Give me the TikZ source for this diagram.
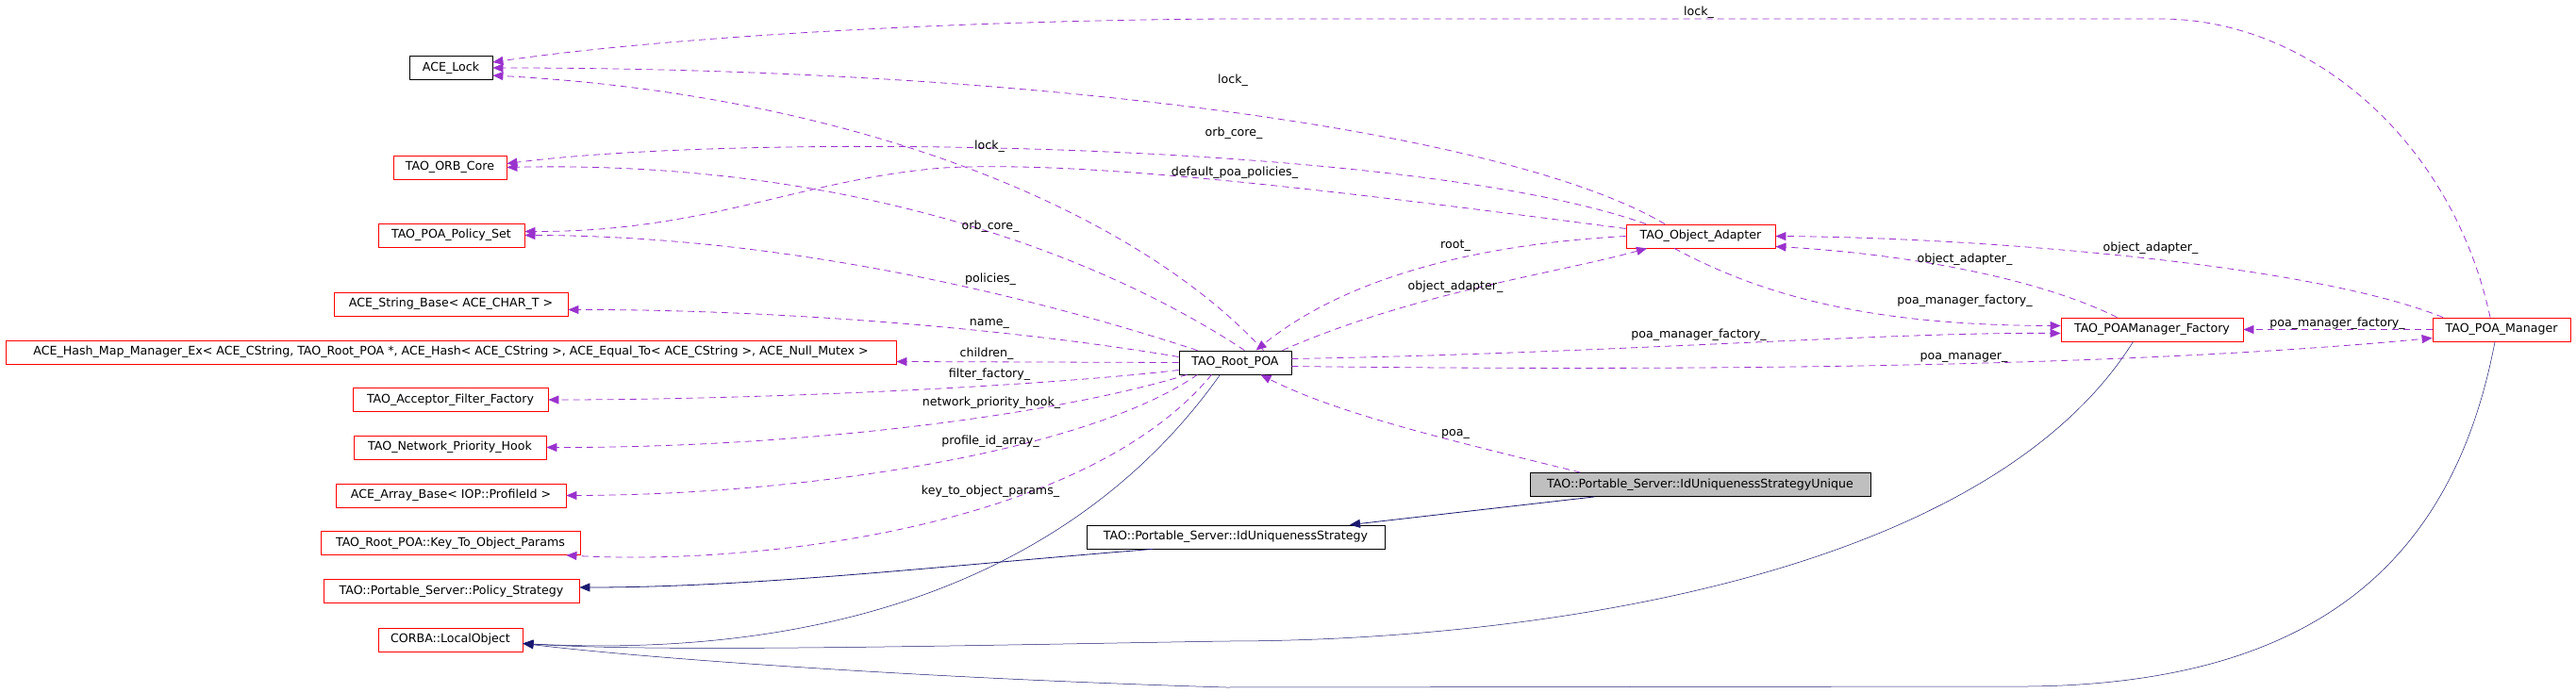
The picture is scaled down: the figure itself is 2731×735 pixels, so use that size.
\documentclass[tikz,border=0pt]{standalone}
\usepackage{fontspec}
\setmainfont{DejaVu Sans}
\usetikzlibrary{arrows.meta}
\definecolor{dep}{HTML}{9A32CD}
\definecolor{inh}{HTML}{191970}
\begin{document}
\begin{tikzpicture}[x=1pt,y=-1pt,
  box/.style={draw=red,line width=0.8pt,minimum height=25pt,inner sep=0pt,font=\fontsize{12.6}{14}\selectfont,fill=white},
  bbox/.style={box,draw=black},
  lbl/.style={font=\fontsize{12.6}{14}\selectfont,inner sep=0pt},
  use/.style={draw=dep,line width=0.8pt,dash pattern=on 7pt off 5pt,-{Triangle[length=11pt,width=9pt]},fill=none},
  isa/.style={draw=inh,line width=0.8pt,-{Triangle[length=11pt,width=9pt]}}]
\useasboundingbox (0,0) rectangle (2731,735);
% nodes
\node[bbox,minimum width=88pt] (lock) at (478,72) {ACE\_Lock};
\node[box,minimum width=120pt] (orb) at (477,177.5) {TAO\_ORB\_Core};
\node[box,minimum width=155pt] (pset) at (478.5,249.5) {TAO\_POA\_Policy\_Set};
\node[box,minimum width=248pt] (str) at (478,322.5) {ACE\_String\_Base< ACE\_CHAR\_T >};
\node[box,minimum width=944pt] (hash) at (478,373.5) {ACE\_Hash\_Map\_Manager\_Ex< ACE\_CString, TAO\_Root\_POA *, ACE\_Hash< ACE\_CString >, ACE\_Equal\_To< ACE\_CString >, ACE\_Null\_Mutex >};
\node[box,minimum width=207pt] (acc) at (477.5,424) {TAO\_Acceptor\_Filter\_Factory};
\node[box,minimum width=204pt] (net) at (477,474.5) {TAO\_Network\_Priority\_Hook};
\node[box,minimum width=244pt] (arr) at (478,525.5) {ACE\_Array\_Base< IOP::ProfileId >};
\node[box,minimum width=275pt] (key) at (477.5,576) {TAO\_Root\_POA::Key\_To\_Object\_Params};
\node[box,minimum width=271pt] (pstrat) at (478.5,627) {TAO::Portable\_Server::Policy\_Strategy};
\node[box,minimum width=153pt] (corba) at (477.5,678.5) {CORBA::LocalObject};
\node[bbox,minimum width=119pt] (root) at (1309.5,384.5) {TAO\_Root\_POA};
\node[box,minimum width=158pt] (oa) at (1803,250.5) {TAO\_Object\_Adapter};
\node[box,minimum width=193pt] (fac) at (2281.5,349.5) {TAO\_POAManager\_Factory};
\node[box,minimum width=146pt] (mgr) at (2652,349.5) {TAO\_POA\_Manager};
\node[bbox,minimum width=361pt,fill={rgb,255:red,191;green,191;blue,191}] (uniq) at (1802.5,514) {TAO::Portable\_Server::IdUniquenessStrategyUnique};
\node[bbox,minimum width=316pt] (idu) at (1310,569.5) {TAO::Portable\_Server::IdUniquenessStrategy};
% dependency edges from Root_POA
\draw[use] ([xshift=30pt]root.north) .. controls (1200,220) and (900,100) .. ([yshift=-8pt]lock.east);
\draw[use] ([xshift=10pt]root.north) .. controls (1150,260) and (880,170) .. (orb.east);
\draw[use] ([xshift=-40pt]root.north) .. controls (1050,300) and (800,250) .. (pset.east);
\draw[use] ([yshift=6pt]root.west) .. controls (1050,345) and (800,328) .. ([yshift=-6pt]str.east);
\draw[use] (root.west) -- ([yshift=-10pt]hash.east);
\draw[use] ([yshift=-8pt]root.west) .. controls (1100,410) and (800,424) .. (acc.east);
\draw[use] ([xshift=-51pt]root.south) .. controls (1120,440) and (850,475) .. (net.east);
\draw[use] ([xshift=-40pt]root.south) .. controls (1150,480) and (850,525) .. (arr.east);
\draw[use] ([xshift=-25pt]root.south) .. controls (1150,560) and (800,600) .. ([xshift=-15pt]key.south east);
\draw[use] ([xshift=50pt]root.north) .. controls (1500,310) and (1650,290) .. ([xshift=-57pt]oa.south);
\draw[use] (oa.west) .. controls (1550,260) and (1420,300) .. ([xshift=22pt]root.north);
\draw[use] ([yshift=4pt]root.east) .. controls (1700,375) and (2000,352) .. ([yshift=-4pt]fac.west);
\draw[use] ([yshift=-4pt]root.east) .. controls (1900,395) and (2300,385) .. ([yshift=-9pt]mgr.west);
% from Object_Adapter
\draw[use] ([xshift=-38pt]oa.north) .. controls (1600,140) and (1100,72) .. (lock.east);
\draw[use] ([xshift=-58pt]oa.north) .. controls (1500,150) and (800,140) .. ([yshift=4pt]orb.east);
\draw[use] ([yshift=8pt]oa.west) .. controls (1400,200) and (1150,170) .. (1000,178) .. controls (850,190) and (750,246) .. ([yshift=4pt]pset.east);
\draw[use] ([xshift=-28pt]oa.south) .. controls (1880,320) and (2000,345) .. ([yshift=4pt]fac.west);
% others
\draw[use] ([xshift=-37pt]fac.north) .. controls (2150,290) and (2000,268) .. ([yshift=-11pt]oa.east);
\draw[use] ([xshift=-62pt]mgr.north) .. controls (2450,280) and (2100,252) .. (oa.east);
\draw[use] (mgr.west) -- (fac.east);
\draw[use] ([xshift=-12pt]mgr.north) .. controls (2600,150) and (2450,20) .. (2290,20) -- (1300,20) .. controls (1000,22) and (700,40) .. ([yshift=6pt]lock.east);
\draw[use] ([xshift=-127pt]uniq.north) .. controls (1550,470) and (1420,440) .. ([xshift=27pt]root.south);
% inheritance
\draw[isa] ([xshift=-112pt]uniq.south) -- ([xshift=121pt]idu.north);
\draw[isa] ([xshift=-88pt]idu.south) .. controls (1000,600) and (800,623) .. ([yshift=4pt]pstrat.east);
\draw[isa,line width=0.5pt] ([xshift=-16pt]root.south) .. controls (1150,600) and (900,700) .. ([yshift=-4pt]corba.east);
\draw[isa,line width=0.5pt] ([xshift=-20pt]fac.south) .. controls (2100,620) and (1600,680) .. (1300,680) .. controls (1000,685) and (700,692) .. ([yshift=-4pt]corba.east);
\draw[isa,line width=0.5pt] ([xshift=-7pt]mgr.south) .. controls (2600,600) and (2450,725) .. (2150,728) -- (1300,729) .. controls (1000,720) and (700,700) .. ([yshift=-4pt]corba.east);
% labels
\node[lbl] (l1) at (1049,155) {lock\_};
\node[lbl] (l2) at (1050,240) {orb\_core\_};
\node[lbl] (l3) at (1050,296) {policies\_};
\node[lbl] (l4) at (1049,343) {name\_};
\node[lbl] (l5) at (1046,375) {children\_};
\node[lbl] (l6) at (1049,397) {filter\_factory\_};
\node[lbl] (l7) at (1051,427) {network\_priority\_hook\_};
\node[lbl] (l8) at (1050,468) {profile\_id\_array\_};
\node[lbl] (l9) at (1050,521) {key\_to\_object\_params\_};
\node[lbl] (l10) at (1543,304) {object\_adapter\_};
\node[lbl] (l11) at (1543,261) {root\_};
\node[lbl] (l12) at (1801,355) {poa\_manager\_factory\_};
\node[lbl] (l13) at (2082,379) {poa\_manager\_};
\node[lbl] (l14) at (1307,85) {lock\_};
\node[lbl] (l15) at (1308,141) {orb\_core\_};
\node[lbl] (l16) at (1309,183) {default\_poa\_policies\_};
\node[lbl] (l17) at (2083,319) {poa\_manager\_factory\_};
\node[lbl] (l18) at (2083,275) {object\_adapter\_};
\node[lbl] (l19) at (2280,263) {object\_adapter\_};
\node[lbl] (l20) at (2478,343) {poa\_manager\_factory\_};
\node[lbl] (l21) at (1801,13) {lock\_};
\node[lbl] (l22) at (1543,460) {poa\_};
\end{tikzpicture}
\end{document}
